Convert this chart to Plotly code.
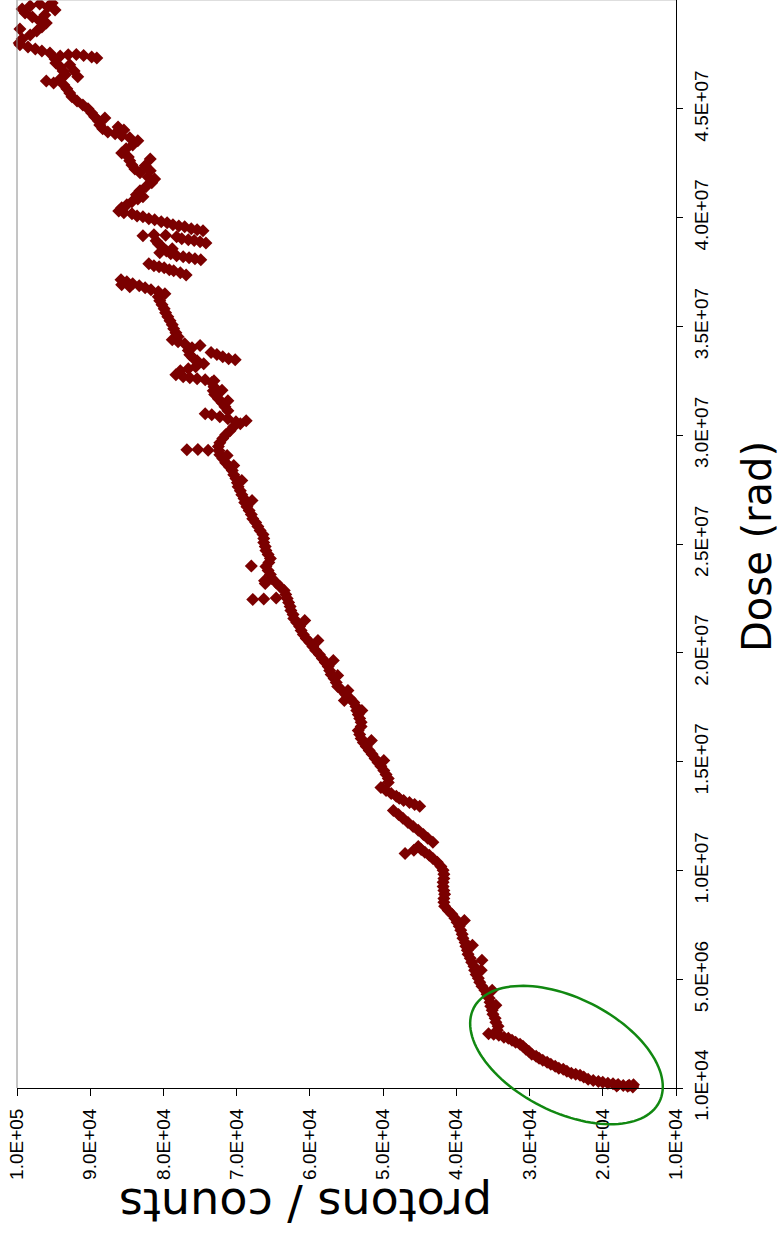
import numpy as np
import plotly.graph_objects as go

# Dose in Mrad (1e6 rad), proton counts in thousands, grouped by stretch of the run
dose_a = [0.06, 0.09, 0.10, 0.12, 0.14, 0.16, 0.17, 0.20, 0.23, 0.27,
          0.31, 0.36, 0.41, 0.51, 0.60, 0.64, 0.69, 0.78, 0.87, 0.92,
          1.01, 1.10, 1.19, 1.29, 1.38, 1.47, 1.56, 1.70, 1.79, 1.93,
          2.02, 2.11, 2.20, 2.30, 2.34, 2.43, 2.48]
counts_a = [15.9, 16.6, 18.1, 17.2, 16.4, 15.8, 17.9, 18.6, 19.3, 20.0,
            20.6, 21.3, 22.0, 22.6, 23.1, 23.7, 24.3, 24.9, 25.4, 26.0,
            26.5, 27.1, 27.6, 28.2, 28.7, 29.1, 29.7, 30.1, 30.5, 30.9,
            31.3, 31.9, 32.4, 32.9, 33.5, 34.2, 34.9]

dose_b = [2.66, 2.85, 3.03, 3.21, 3.40, 3.58, 3.77, 3.95, 4.13, 4.32,
          4.50, 4.68, 4.87, 5.05, 5.23, 5.42, 5.60, 5.79, 5.97, 6.15,
          6.34, 6.52, 6.70, 6.89, 7.07, 7.26, 7.44, 7.62, 7.81, 7.99,
          8.17, 8.36, 8.54, 8.72, 8.91, 9.09, 9.27, 9.46, 2.50,
          5.88, 5.42, 6.57, 4.50, 3.81, 7.71]
counts_b = [34.4, 34.3, 34.6, 34.7, 35.0, 35.1, 35.3, 35.4, 35.5, 35.8,
            36.1, 36.5, 36.8, 37.0, 37.3, 37.5, 37.6, 37.9, 38.1, 38.4,
            38.5, 38.7, 38.8, 39.1, 39.2, 39.4, 39.6, 39.9, 40.2, 40.6,
            41.1, 41.6, 41.7, 41.7, 41.6, 41.7, 41.8, 41.8, 35.6,
            36.5, 36.6, 37.8, 35.1, 34.6, 38.9]

dose_c = [9.64, 9.83, 10.01, 10.19, 10.38, 10.56, 10.70, 10.84, 10.97, 11.11,
          10.93, 10.79]
counts_c = [41.7, 41.7, 41.8, 42.1, 42.6, 43.2, 43.7, 44.3, 44.8, 45.2,
            45.8, 47.0]

dose_d = [11.30, 11.48, 11.66, 11.85, 12.03, 12.21, 12.40, 12.58, 12.76]
counts_d = [43.2, 43.9, 44.5, 45.2, 45.9, 46.6, 47.3, 47.9, 48.6]

dose_e = [12.95, 13.04, 13.13, 13.22, 13.32, 13.41, 13.54, 13.68, 13.82]
counts_e = [45.0, 45.7, 46.4, 47.2, 47.8, 48.2, 48.9, 49.6, 50.3]

dose_f = [14.05, 14.23, 14.42, 14.60, 14.79, 14.97, 15.15, 15.34, 15.52, 15.70,
          15.89, 16.07, 16.25, 16.44, 16.62, 16.81, 16.99, 17.17, 17.36, 17.54,
          17.72, 17.82, 17.36, 15.98, 15.06]
counts_f = [49.3, 49.3, 49.6, 49.9, 50.3, 50.7, 51.1, 51.5, 51.9, 52.3,
            52.7, 53.0, 53.2, 53.4, 53.0, 53.0, 53.2, 53.4, 53.6, 53.7,
            54.0, 55.3, 52.9, 51.6, 49.9]

dose_g = [17.91, 18.09, 18.27, 18.46, 18.64, 18.82, 19.01, 19.19, 19.38, 19.56,
          19.74, 19.93, 20.11, 20.30, 20.48, 20.66, 20.85, 21.03, 21.21, 21.40,
          21.58, 21.77, 21.95, 22.13, 22.32, 22.50, 22.68, 22.87, 23.05, 23.23,
          23.42, 23.60, 23.79, 23.97, 24.15, 24.34, 24.52, 24.71, 24.89, 25.07,
          25.26, 25.44, 25.62, 25.81, 22.46, 22.48, 22.52, 23.99, 23.19, 23.32,
          19.65, 18.96, 20.57, 21.49, 18.27]
counts_g = [54.5, 55.1, 55.6, 56.2, 56.4, 56.7, 57.1, 57.3, 57.5, 57.9,
            58.3, 58.7, 59.2, 59.6, 60.0, 60.5, 60.9, 61.2, 61.4, 61.8,
            62.2, 62.3, 62.6, 62.7, 62.9, 63.1, 63.3, 63.5, 64.1, 64.6,
            65.2, 65.4, 65.7, 66.0, 65.6, 65.4, 65.7, 66.0, 66.1, 66.3,
            66.3, 66.4, 66.8, 67.1, 67.8, 66.3, 64.6, 68.0, 66.1, 66.2,
            56.8, 56.2, 58.9, 60.7, 54.8]

dose_h = [25.99, 26.17, 26.36, 26.54, 26.72, 26.91, 27.09, 27.27, 27.45, 27.64,
          27.82, 28.01, 28.19, 28.38, 28.56, 28.74, 28.93, 29.11, 29.29, 29.48,
          29.66, 29.85, 30.03, 30.21, 30.40, 30.53, 30.67, 30.62, 30.76, 30.85,
          30.94, 30.99, 31.13, 31.31, 31.50, 31.68, 31.87, 32.05, 32.23, 32.42,
          32.51, 32.55, 32.60, 32.64, 32.69, 32.78, 32.97, 33.06, 33.15, 33.29,
          33.43, 33.56, 33.70, 33.89, 34.02, 34.12, 34.21, 34.30, 34.39,
          33.47, 33.52, 33.61, 33.71, 33.80, 29.33, 29.35, 29.31,
          27.00, 27.92, 28.61, 29.07, 31.59, 32.07]
counts_h = [67.4, 67.8, 68.0, 68.3, 68.6, 68.9, 69.0, 69.3, 69.5, 69.8,
            69.9, 70.1, 70.4, 70.6, 71.0, 71.5, 71.9, 72.3, 72.4, 72.5,
            72.3, 71.9, 71.5, 70.9, 70.4, 69.5, 68.7, 70.1, 71.2, 72.3,
            73.4, 74.3, 71.2, 71.6, 72.0, 72.5, 73.0, 73.2, 73.1, 73.4,
            73.1, 74.3, 75.4, 76.4, 77.3, 78.3, 77.7, 76.6, 75.6, 74.5,
            75.4, 76.0, 76.4, 76.6, 76.1, 75.0, 77.1, 78.0, 78.8,
            70.2, 71.1, 71.9, 72.7, 73.5, 76.8, 75.3, 73.9,
            67.9, 69.3, 70.4, 71.3, 71.2, 72.0]

dose_i = [34.53, 34.71, 34.90, 35.08, 35.26, 35.45, 35.63, 35.81, 36.00, 36.18,
          36.36, 36.50, 36.59, 36.69, 36.78, 36.87, 36.96, 37.05, 37.15, 36.92,
          36.82]
counts_i = [78.0, 78.3, 78.6, 78.8, 79.1, 79.4, 79.7, 79.9, 80.2, 80.5,
            80.7, 79.8, 80.7, 81.7, 82.5, 83.3, 84.2, 85.0, 85.8, 85.7,
            84.6]

dose_j = [37.37, 37.47, 37.56, 37.61, 37.70, 37.74, 37.79, 37.88,
          38.06, 38.11, 38.16, 38.20, 38.25, 38.34, 38.47, 38.66, 38.80, 38.94,
          38.39, 38.57]
counts_j = [76.9, 77.7, 78.6, 79.2, 79.9, 80.6, 81.3, 82.0,
            74.9, 75.7, 76.5, 77.3, 78.2, 79.0, 79.6, 80.2, 80.7, 81.0,
            80.5, 78.8]

dose_k = [39.17, 39.21, 39.19,
          38.84, 38.89, 38.95, 38.98, 39.03, 39.12,
          39.40, 39.44, 39.49, 39.58, 39.62, 39.67, 39.76, 39.81, 39.90, 39.95,
          40.04, 40.08, 40.18,
          40.22, 40.31, 40.45, 40.59, 40.73, 40.86, 40.96]
counts_k = [82.8, 81.3, 79.7,
            74.2, 75.0, 75.8, 76.6, 77.5, 78.2,
            74.6, 75.4, 76.2, 77.1, 77.9, 78.7, 79.5, 80.3, 81.2, 82.0,
            82.8, 83.6, 84.3,
            85.4, 86.1, 85.7, 85.0, 84.3, 83.5, 82.8]

dose_l = [41.05, 41.23, 41.42, 41.60, 41.78, 41.87, 42.06, 42.24, 42.42, 42.61,
          42.79, 42.97, 43.16, 43.34, 43.53, 43.67, 43.76, 43.85, 43.94, 44.08,
          44.26, 44.45, 44.63, 44.81, 45.00, 45.18, 45.36, 45.55, 45.73, 45.92,
          46.10, 46.19, 46.28, 46.37, 46.56, 46.74, 46.93, 47.11, 47.29, 47.43,
          47.48, 47.50, 47.45, 47.38, 47.34, 47.57, 47.66, 47.75, 47.84, 47.94,
          48.03, 48.21, 48.39, 48.58, 48.76, 48.94, 49.04, 49.22, 49.40, 49.59,
          49.73, 49.82, 49.68, 49.54, 49.86, 48.67, 49.31,
          46.74, 47.02, 46.47, 44.58, 44.17, 44.03, 42.38, 42.70, 42.15]
counts_l = [83.7, 83.2, 82.4, 81.6, 81.2, 82.1, 83.2, 83.9, 84.3, 84.6,
            84.8, 85.7, 85.1, 84.2, 83.5, 84.6, 85.7, 86.6, 87.6, 88.3,
            88.7, 88.9, 89.4, 89.8, 90.3, 91.0, 91.8, 92.5, 92.8, 93.2,
            93.6, 95.0, 96.0, 94.1, 93.4, 93.7, 94.1, 94.7, 94.8, 94.1,
            93.0, 91.9, 90.9, 89.8, 89.1, 95.5, 96.6, 97.5, 98.5, 99.6,
            99.7, 99.3, 98.2, 97.3, 96.6, 96.0, 96.9, 97.9, 98.9, 99.3,
            98.2, 96.9, 95.8, 94.8, 95.2, 99.6, 96.2,
            92.2, 92.8, 91.7, 88.0, 86.2, 85.4, 82.5, 81.8, 81.8]

# Axis ticks
count_ticks = [100000, 90000, 80000, 70000, 60000, 50000, 40000, 30000, 20000, 10000]
count_tick_labels = ["1.0E+05", "9.0E+04", "8.0E+04", "7.0E+04", "6.0E+04",
                     "5.0E+04", "4.0E+04", "3.0E+04", "2.0E+04", "1.0E+04"]
dose_ticks = [1e4, 5e6, 1e7, 1.5e7, 2e7, 2.5e7, 3e7, 3.5e7, 4e7, 4.5e7]
dose_tick_labels = ["1.0E+04", "5.0E+06", "1.0E+07", "1.5E+07", "2.0E+07",
                    "2.5E+07", "3.0E+07", "3.5E+07", "4.0E+07", "4.5E+07"]

dose_groups = [dose_a, dose_b, dose_c, dose_d, dose_e, dose_f,
               dose_g, dose_h, dose_i, dose_j, dose_k, dose_l]
count_groups = [counts_a, counts_b, counts_c, counts_d, counts_e, counts_f,
                counts_g, counts_h, counts_i, counts_j, counts_k, counts_l]
for d, c in zip(dose_groups, count_groups):
    if len(d) != len(c):
        raise ValueError("dose/counts length mismatch")

dose = np.concatenate([np.asarray(d) for d in dose_groups]) * 1e6
counts = np.concatenate([np.asarray(c) for c in count_groups]) * 1e3

# Figure geometry (pixels)
W_FIG, H_FIG = 784, 1247
M_L, M_R, M_T, M_B = 17, 108, 0, 159
PW = W_FIG - M_L - M_R
PH = H_FIG - M_T - M_B

fig = go.Figure()
fig.add_trace(go.Scatter(
    x=counts, y=dose, mode="markers",
    marker=dict(symbol="diamond", size=10, color="#7b0000", line=dict(width=0)),
    cliponaxis=False, showlegend=False, hoverinfo="skip",
))

tick_font = dict(family="Arial, Liberation Sans, sans-serif", size=19, color="#000")
title_family = "Comic Sans MS, DejaVu Sans, sans-serif"

# Highlight ellipse around the low-dose part of the curve (pixel geometry -> paper)
cx, cy = 0.8338, 0.0303
a_px, b_px, tilt = 104.0, 57.0, np.deg2rad(26.8)
t = np.linspace(0, 2 * np.pi, 121)
ex = a_px * np.cos(t) * np.cos(tilt) - b_px * np.sin(t) * np.sin(tilt)
ey = a_px * np.cos(t) * np.sin(tilt) + b_px * np.sin(t) * np.cos(tilt)
px = cx + ex / PW
py = cy - ey / PH
path = "M " + " L ".join(f"{x:.5f},{y:.5f}" for x, y in zip(px, py)) + " Z"

fig.update_layout(
    width=W_FIG, height=H_FIG,
    margin=dict(l=M_L, r=M_R, t=M_T, b=M_B, pad=0),
    paper_bgcolor="white", plot_bgcolor="white",
    xaxis=dict(
        range=[100000, 10000], tickvals=count_ticks, ticktext=count_tick_labels,
        tickangle=-90, ticks="outside", ticklen=7, tickcolor="#000", tickwidth=1,
        showline=True, linecolor="#000", linewidth=1,
        showgrid=False, zeroline=False, tickfont=tick_font,
        ticklabelstandoff=5,
    ),
    yaxis=dict(
        side="right", range=[1e4, 5e7], tickvals=dose_ticks, ticktext=dose_tick_labels,
        tickangle=-90, ticks="outside", ticklen=6, tickcolor="#000", tickwidth=1,
        showline=True, linecolor="#000", linewidth=1,
        showgrid=False, zeroline=False, tickfont=tick_font,
        ticklabelstandoff=2,
    ),
    shapes=[
        dict(type="line", xref="paper", yref="paper", x0=0, x1=0, y0=0, y1=1,
             line=dict(color="#8a8a8a", width=1)),
        dict(type="line", xref="paper", yref="paper", x0=0, x1=1, y0=1, y1=1,
             line=dict(color="#bdbdbd", width=1)),
        dict(type="path", xref="paper", yref="paper", path=path,
             line=dict(color="#118811", width=2.5), layer="above"),
    ],
    annotations=[
        dict(text="Dose (rad)", xref="paper", yref="paper", x=1.1229, y=0.4982,
             showarrow=False, textangle=-90, xanchor="center", yanchor="middle",
             font=dict(family=title_family, size=40, color="#000")),
        dict(text="protons / counts", xref="paper", yref="paper", x=0.4370, y=-0.1075,
             showarrow=False, textangle=180, xanchor="center", yanchor="middle",
             font=dict(family=title_family, size=46, color="#000")),
    ],
)

fig.write_html("out.html")
